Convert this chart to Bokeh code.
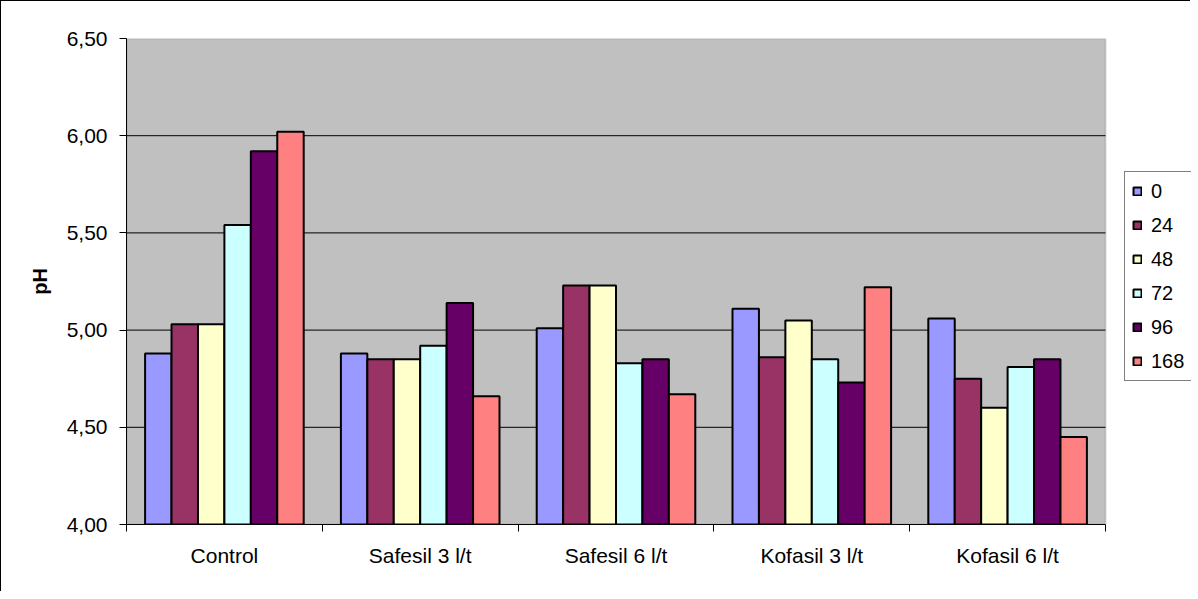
from bokeh.plotting import figure
from bokeh.models import Range1d, FixedTicker, Legend, LegendItem, ColumnDataSource, BoxAnnotation
from bokeh.embed import file_html
from bokeh.resources import INLINE

groups = ["Control", "Safesil 3 l/t", "Safesil 6 l/t", "Kofasil 3 l/t", "Kofasil 6 l/t"]
hours = ["0", "24", "48", "72", "96", "168"]
ph_0 = [4.88, 4.88, 5.01, 5.11, 5.06]
ph_24 = [5.03, 4.85, 5.23, 4.86, 4.75]
ph_48 = [5.03, 4.85, 5.23, 5.05, 4.60]
ph_72 = [5.54, 4.92, 4.83, 4.85, 4.81]
ph_96 = [5.92, 5.14, 4.85, 4.73, 4.85]
ph_168 = [6.02, 4.66, 4.67, 5.22, 4.45]
y_ticks = [4.0, 4.5, 5.0, 5.5, 6.0, 6.5]
y_tick_labels = ["4,00", "4,50", "5,00", "5,50", "6,00", "6,50"]

series = [ph_0, ph_24, ph_48, ph_72, ph_96, ph_168]
colors = ["#9999FF", "#993366", "#FFFFCC", "#CCFFFF", "#660066", "#FF8080"]

FONT = "Liberation Sans"
n = len(groups)
# frame spans the plot area plus the legend strip on the right
x_end = n * 1065 / 979

p = figure(width=1190, height=591, output_backend="svg", toolbar_location=None,
           x_range=Range1d(0, x_end), y_range=Range1d(4.0, 6.5),
           min_border_left=125, min_border_right=0, min_border_top=37, min_border_bottom=68)
p.styles = {"border-left": "1px solid black", "border-top": "1px solid black", "box-sizing": "border-box"}

p.background_fill_color = "white"
p.border_fill_color = "white"
p.outline_line_color = None

# grey plot area
plot_area = BoxAnnotation(left=0, right=n, bottom=y_ticks[0], top=y_ticks[-1],
                          fill_color="#C0C0C0", fill_alpha=1,
                          line_color="#808080", line_width=2, level="image")
p.add_layout(plot_area)

# horizontal gridlines limited to the plot area
grid_y = y_ticks[1:-1]
p.segment(x0=[0] * len(grid_y), x1=[n] * len(grid_y), y0=grid_y, y1=grid_y,
          line_color="black", line_width=1, level="underlay")

bar_w = 0.135
items = []
for j, (h, vals, c) in enumerate(zip(hours, series, colors)):
    xs = [i + 0.5 + (j - 2.5) * bar_w for i in range(n)]
    src = ColumnDataSource(dict(x=xs, top=vals))
    r = p.vbar(x="x", top="top", bottom=4.0, width=bar_w, source=src,
               fill_color=c, line_color="black", line_width=2)
    items.append(LegendItem(label=h, renderers=[r]))

# x axis
p.xaxis.bounds = (0, n)
p.xaxis.ticker = FixedTicker(ticks=[i + 0.5 for i in range(n)],
                             minor_ticks=list(range(n + 1)))
p.xaxis.major_label_overrides = {i + 0.5: g for i, g in enumerate(groups)}
p.xaxis.major_tick_line_color = None
p.xaxis.major_tick_out = 0
p.xaxis.minor_tick_line_color = "black"
p.xaxis.minor_tick_out = 7
p.xaxis.minor_tick_in = 0
p.xaxis.axis_line_color = "black"
p.xaxis.major_label_standoff = 12
p.xaxis.major_label_text_font = FONT
p.xaxis.major_label_text_font_size = "21px"
p.xaxis.major_label_text_color = "black"

# y axis
p.yaxis.ticker = FixedTicker(ticks=y_ticks)
p.yaxis.major_label_overrides = {t: l for t, l in zip(y_ticks, y_tick_labels)}
p.yaxis.major_tick_out = 7
p.yaxis.major_tick_in = 0
p.yaxis.major_tick_line_color = "black"
p.yaxis.minor_tick_line_color = None
p.yaxis.axis_line_color = "black"
p.yaxis.major_label_standoff = 12
p.yaxis.major_label_text_font = FONT
p.yaxis.major_label_text_font_size = "21px"
p.yaxis.major_label_text_color = "black"
p.yaxis.axis_label = "pH"
p.yaxis.axis_label_text_font = FONT
p.yaxis.axis_label_text_font_size = "20px"
p.yaxis.axis_label_text_font_style = "bold"
p.yaxis.axis_label_text_color = "black"
p.yaxis.axis_label_standoff = 13

p.xgrid.grid_line_color = None
p.ygrid.grid_line_color = None

legend = Legend(items=items, location=(998, 143),
                border_line_color="black", border_line_width=1,
                background_fill_color="white", background_fill_alpha=1,
                padding=7, margin=0, spacing=10,
                glyph_width=10, glyph_height=10, label_height=24, label_width=40,
                label_standoff=9, label_text_font=FONT, label_text_font_size="20px",
                label_text_color="black")
p.add_layout(legend, "center")

open("out.html", "w").write(file_html(p, INLINE))
